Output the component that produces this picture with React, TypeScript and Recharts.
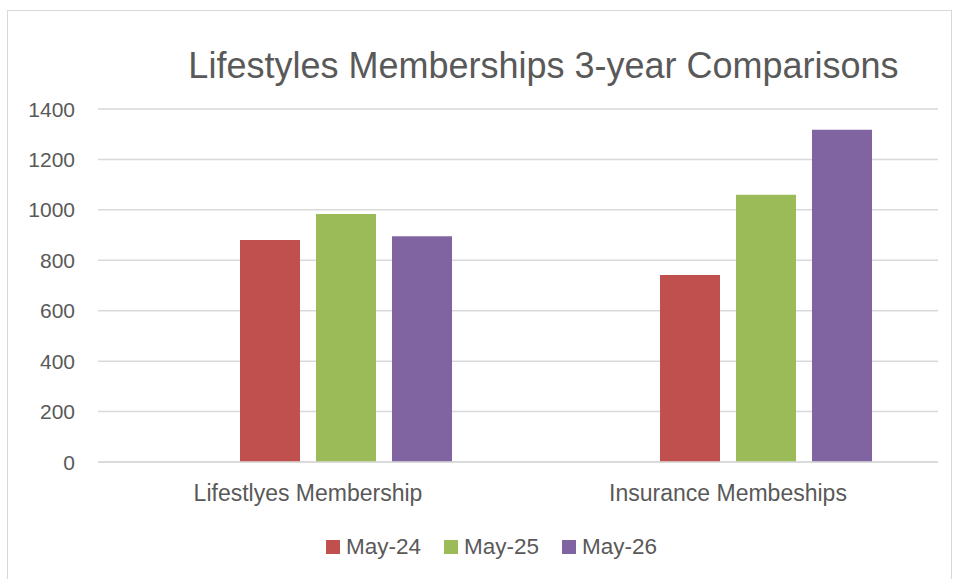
import React from 'react';
import { BarChart, Bar, XAxis, YAxis, CartesianGrid } from 'recharts';

const categories = ['Lifestlyes Membership', 'Insurance Membeships'];
const blank: (number | null)[] = [null, null];
const may24 = [880, 742];
const may25 = [984, 1060];
const may26 = [895, 1318];
const seriesNames = ['May-24', 'May-25', 'May-26'];
const seriesColors = ['#C0504D', '#9BBB59', '#8064A2'];
const yTicks = [0, 200, 400, 600, 800, 1000, 1200, 1400];
const title = 'Lifestyles Memberships 3-year Comparisons';

const data = categories.map((c, i) => ({
  name: c,
  blank: blank[i],
  s0: may24[i],
  s1: may25[i],
  s2: may26[i],
}));

const FONT = '"Liberation Sans", Arial, sans-serif';
const TEXT = '#595959';

const YTick = (props: any) => {
  const { y, payload } = props;
  return (
    <text x={75} y={y} dy={7.5} textAnchor="end" fill={TEXT} fontSize={21} fontFamily={FONT}>
      {payload.value}
    </text>
  );
};

const XTick = (props: any) => {
  const { x, y, payload } = props;
  return (
    <text x={x} y={y} dy={39} textAnchor="middle" fill={TEXT} fontSize={23} fontFamily={FONT}>
      {payload.value}
    </text>
  );
};

export default function App() {
  const seriesKeys = ['s0', 's1', 's2'];
  return (
    <div style={{ position: 'absolute', left: 0, top: 0, width: 953, height: 579, background: '#fff', overflow: 'hidden' }}>
      <div
        style={{
          position: 'absolute',
          left: 7,
          top: 10,
          width: 945,
          height: 570,
          border: '1px solid #d9d9d9',
          boxSizing: 'border-box',
        }}
      />
      <div
        style={{
          position: 'absolute',
          left: 0,
          width: 1087,
          top: 48,
          lineHeight: '36px',
          fontSize: 36,
          fontFamily: FONT,
          color: TEXT,
          textAlign: 'center',
          whiteSpace: 'nowrap',
        }}
      >
        {title}
      </div>
      <div style={{ position: 'absolute', left: 0, top: 0 }}>
        <BarChart
          width={953}
          height={579}
          data={data}
          margin={{ top: 109, right: 15, bottom: 77, left: 0 }}
          barSize={60}
          barGap={16}
        >
          <CartesianGrid vertical={false} stroke="#d9d9d9" strokeWidth={1.5} />
          <XAxis
            dataKey="name"
            height={40}
            axisLine={{ stroke: '#d9d9d9', strokeWidth: 1.5 }}
            tickLine={false}
            tickSize={0}
            tickMargin={0}
            tick={<XTick />}
            interval={0}
          />
          <YAxis
            width={98}
            domain={[0, 1400]}
            ticks={yTicks}
            axisLine={false}
            tickLine={false}
            tick={<YTick />}
            interval={0}
          />
          <Bar dataKey="blank" fill="transparent" legendType="none" isAnimationActive={false} />
          {seriesKeys.map((k, i) => (
            <Bar key={k} dataKey={k} name={seriesNames[i]} fill={seriesColors[i]} isAnimationActive={false} />
          ))}
        </BarChart>
      </div>
      <div
        style={{
          position: 'absolute',
          left: 326,
          top: 532,
          height: 30,
          display: 'flex',
          alignItems: 'center',
          fontFamily: FONT,
          fontSize: 22.5,
          color: TEXT,
        }}
      >
        {seriesNames.map((n, i) => (
          <div key={n} style={{ display: 'flex', alignItems: 'center', marginRight: i < seriesNames.length - 1 ? 23 : 0 }}>
            <div style={{ width: 14, height: 14, background: seriesColors[i], marginRight: 6 }} />
            <span>{n}</span>
          </div>
        ))}
      </div>
    </div>
  );
}
